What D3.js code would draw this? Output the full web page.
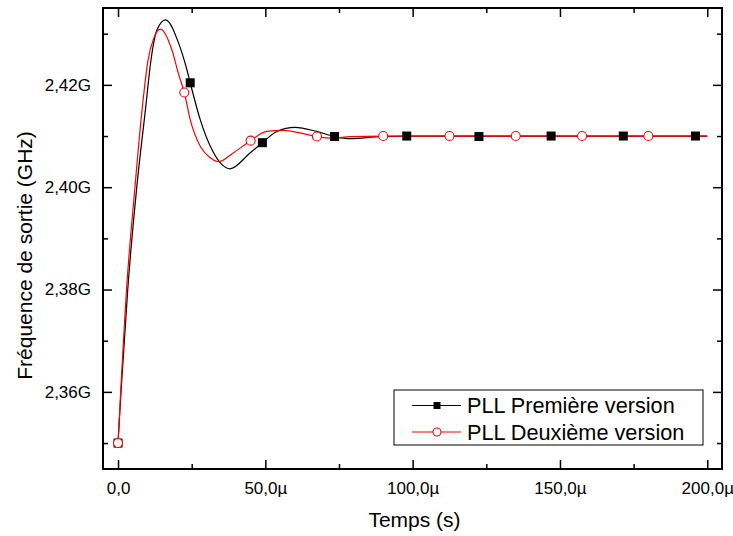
<!DOCTYPE html>
<html>
<head>
<meta charset="utf-8">
<script src="https://cdn.jsdelivr.net/npm/d3@7/dist/d3.min.js"></script>
<style>
  html, body { margin: 0; padding: 0; background: #fff; }
  svg { display: block; font-family: Arial, "Liberation Sans", sans-serif; }
</style>
</head>
<body>
<script>
// ---- Data (time in µs, frequency in GHz) ----
const seriesNames = ["PLL Première version", "PLL Deuxième version"];

const v1Time = [0, 1.0, 3.3, 6.45, 9.3, 11.2, 13.2, 16.1, 20.6, 23.4, 24.5, 27.9, 31.9, 35.3, 38.0, 44.8, 49.0, 53.9, 60.1, 67.4, 73.5, 78.8, 88.9, 98, 122.5, 147, 171.5, 196, 200];
const v1Freq = [2.350, 2.3599, 2.3800, 2.4005, 2.4151, 2.4249, 2.4307, 2.4327, 2.4281, 2.4229, 2.4204, 2.4132, 2.4073, 2.4044, 2.4036, 2.4067, 2.4087, 2.4109, 2.4117, 2.4109, 2.4099, 2.4095, 2.4099, 2.4100, 2.4100, 2.4100, 2.4100, 2.4100, 2.4100];

const v2Time = [0, 3.0, 5.67, 8.15, 10.2, 12.2, 14.4, 18.3, 20.6, 22.5, 24.5, 27.9, 31.2, 34.1, 39.1, 45.0, 50.5, 56.1, 61.8, 67.5, 73.1, 78.8, 90, 112.5, 135, 157.5, 180, 200];
const v2Freq = [2.350, 2.3810, 2.3995, 2.4151, 2.4249, 2.4292, 2.4309, 2.4268, 2.4220, 2.4185, 2.4132, 2.4080, 2.4058, 2.4050, 2.4067, 2.4091, 2.4109, 2.4111, 2.4106, 2.4099, 2.4096, 2.4099, 2.4100, 2.4100, 2.4100, 2.4100, 2.4100, 2.4100];

const v1MarkTime = [0, 24.5, 49, 73.5, 98, 122.5, 147, 171.5, 196];
const v1MarkFreq = [2.350, 2.4204, 2.4087, 2.4099, 2.4100, 2.4099, 2.4100, 2.4100, 2.4100];
const v2MarkTime = [0, 22.5, 45, 67.5, 90, 112.5, 135, 157.5, 180];
const v2MarkFreq = [2.350, 2.4185, 2.4091, 2.4099, 2.4100, 2.4100, 2.4100, 2.4100, 2.4100];

const xMajorTicks = [0, 50, 100, 150, 200];
const xTickLabels = ["0,0", "50,0µ", "100,0µ", "150,0µ", "200,0µ"];
const xMinorTicks = [25, 75, 125, 175];
const yMajorTicks = [2.36, 2.38, 2.40, 2.42];
const yTickLabels = ["2,36G", "2,38G", "2,40G", "2,42G"];
const yMinorTicks = [2.35, 2.37, 2.39, 2.41, 2.43];

// ---- Layout ----
const W = 733, H = 536;
const L = 103, R = 722, T = 8, B = 469;

const svg = d3.select("body").append("svg").attr("width", W).attr("height", H);

const x = d3.scaleLinear().domain([-5.1, 205]).range([L, R]);
const y = d3.scaleLinear().domain([2.34493, 2.43502]).range([B, T]);

// ---- Axes with inward ticks on all four sides ----
function addAxis(axisGen, transform) {
  const g = svg.append("g").attr("transform", transform).call(axisGen);
  g.select(".domain").remove();
  g.selectAll("line").attr("stroke", "#000").attr("stroke-width", 1.5);
  g.selectAll("text").attr("font-size", 17).attr("fill", "#000")
    .attr("font-family", "Arial, 'Liberation Sans', sans-serif");
  return g;
}
const majLen = 9, minLen = 5;
// bottom
addAxis(d3.axisBottom(x).tickValues(xMajorTicks).tickSize(-majLen).tickPadding(13)
  .tickFormat((d, i) => xTickLabels[i]), `translate(0,${B})`);
addAxis(d3.axisBottom(x).tickValues(xMinorTicks).tickSize(-minLen).tickFormat(""), `translate(0,${B})`);
// top
addAxis(d3.axisTop(x).tickValues(xMajorTicks).tickSize(-majLen).tickFormat(""), `translate(0,${T})`);
addAxis(d3.axisTop(x).tickValues(xMinorTicks).tickSize(-minLen).tickFormat(""), `translate(0,${T})`);
// left
addAxis(d3.axisLeft(y).tickValues(yMajorTicks).tickSize(-majLen).tickPadding(12)
  .tickFormat((d, i) => yTickLabels[i]), `translate(${L},0)`);
addAxis(d3.axisLeft(y).tickValues(yMinorTicks).tickSize(-minLen).tickFormat(""), `translate(${L},0)`);
// right
addAxis(d3.axisRight(y).tickValues(yMajorTicks).tickSize(-majLen).tickFormat(""), `translate(${R},0)`);
addAxis(d3.axisRight(y).tickValues(yMinorTicks).tickSize(-minLen).tickFormat(""), `translate(${R},0)`);

// frame
svg.append("rect").attr("x", L).attr("y", T).attr("width", R - L).attr("height", B - T)
  .attr("fill", "none").attr("stroke", "#000").attr("stroke-width", 2);

// ---- Lines ----
const line = d3.line().x(d => x(d[0])).y(d => y(d[1])).curve(d3.curveMonotoneX);
const v1 = v1Time.map((t, i) => [t, v1Freq[i]]);
const v2 = v2Time.map((t, i) => [t, v2Freq[i]]);

svg.append("path").datum(v1).attr("d", line).attr("fill", "none")
  .attr("stroke", "#000").attr("stroke-width", 1.2);
svg.append("path").datum(v2).attr("d", line).attr("fill", "none")
  .attr("stroke", "#ff0000").attr("stroke-width", 1.2);

// ---- Markers ----
const sq = 9;
svg.append("g").selectAll("rect").data(v1MarkTime.map((t, i) => [t, v1MarkFreq[i]])).join("rect")
  .attr("x", d => x(d[0]) - sq / 2).attr("y", d => y(d[1]) - sq / 2)
  .attr("width", sq).attr("height", sq).attr("fill", "#000");
svg.append("g").selectAll("circle").data(v2MarkTime.map((t, i) => [t, v2MarkFreq[i]])).join("circle")
  .attr("cx", d => x(d[0])).attr("cy", d => y(d[1])).attr("r", 4.5)
  .attr("fill", "#fff").attr("stroke", "#ff0000").attr("stroke-width", 1.1);

// ---- Axis titles ----
svg.append("text").attr("x", (L + R) / 2 + 2).attr("y", 527).attr("text-anchor", "middle")
  .attr("font-size", 21).text("Temps (s)");
svg.append("text").attr("transform", `translate(32,${(T + B) / 2 + 17}) rotate(-90)`)
  .attr("text-anchor", "middle").attr("font-size", 21).text("Fréquence de sortie (GHz)");

// ---- Legend ----
const lg = svg.append("g");
lg.append("rect").attr("x", 394).attr("y", 390).attr("width", 309).attr("height", 55)
  .attr("fill", "#fff").attr("stroke", "#000").attr("stroke-width", 1);
const rows = [
  { name: seriesNames[0], color: "#000", yy: 405.5, type: "square" },
  { name: seriesNames[1], color: "#ff0000", yy: 432, type: "circle" }
];
rows.forEach(r => {
  lg.append("line").attr("x1", 412).attr("x2", 461).attr("y1", r.yy).attr("y2", r.yy)
    .attr("stroke", r.color).attr("stroke-width", 1.2);
  if (r.type === "square") {
    lg.append("rect").attr("x", 437 - 3.5).attr("y", r.yy - 3.5).attr("width", 7).attr("height", 7).attr("fill", "#000");
  } else {
    lg.append("circle").attr("cx", 437).attr("cy", r.yy).attr("r", 4).attr("fill", "#fff")
      .attr("stroke", "#ff0000").attr("stroke-width", 1.1);
  }
  lg.append("text").attr("x", 467).attr("y", r.yy + 7.5).attr("font-size", 21.7).text(r.name);
});
</script>
</body>
</html>
